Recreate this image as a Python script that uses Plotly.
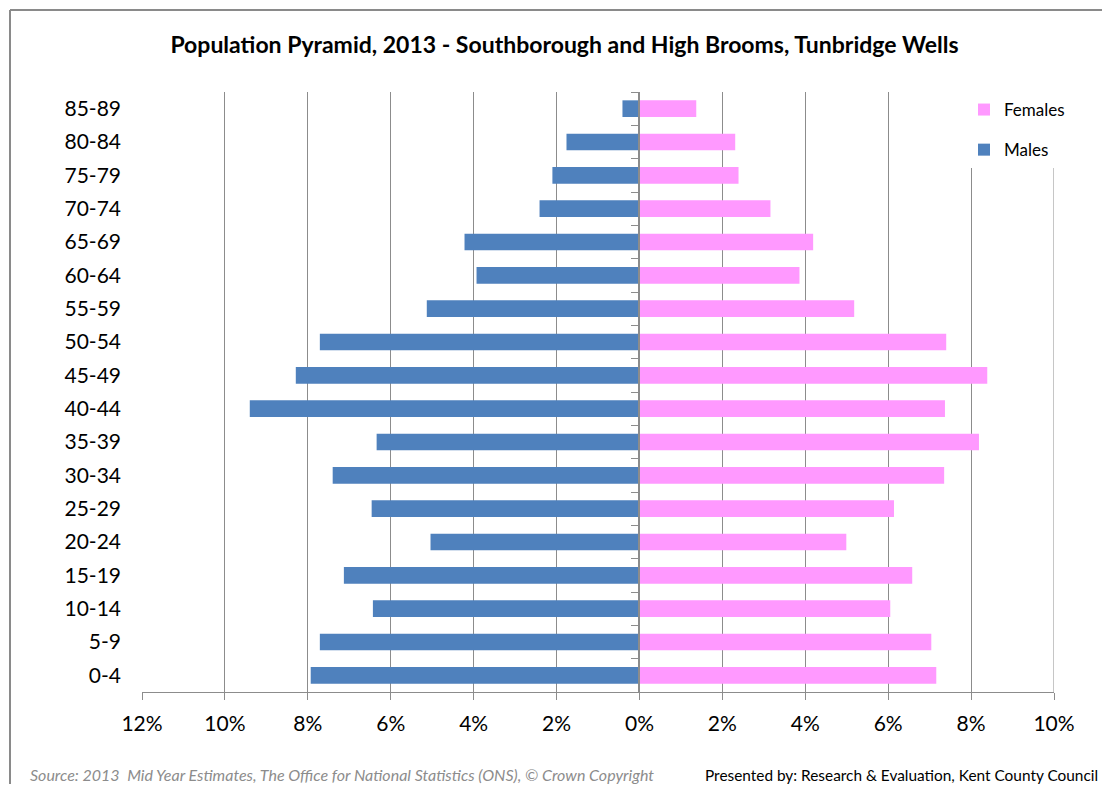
import plotly.graph_objects as go

age_groups = ["0-4", "5-9", "10-14", "15-19", "20-24", "25-29", "30-34", "35-39",
              "40-44", "45-49", "50-54", "55-59", "60-64", "65-69", "70-74",
              "75-79", "80-84", "85-89"]
males_pct = [7.93, 7.71, 6.43, 7.13, 5.04, 6.46, 7.40, 6.34,
             9.40, 8.29, 7.71, 5.13, 3.93, 4.22, 2.41, 2.10, 1.76, 0.41]
females_pct = [7.16, 7.04, 6.05, 6.58, 4.99, 6.14, 7.35, 8.19,
               7.37, 8.39, 7.40, 5.18, 3.86, 4.19, 3.16, 2.39, 2.31, 1.37]
tick_vals = [-12, -10, -8, -6, -4, -2, 0, 2, 4, 6, 8, 10]
tick_text = ["12%", "10%", "8%", "6%", "4%", "2%", "0%", "2%", "4%", "6%", "8%", "10%"]

title_text = "Population Pyramid, 2013 - Southborough and High Brooms, Tunbridge Wells"
source_text = "Source: 2013  Mid Year Estimates, The Office for National Statistics (ONS), © Crown Copyright"
presented_text = "Presented by: Research & Evaluation, Kent County Council"

MALE_COLOR = "#4F81BD"
FEMALE_COLOR = "#FF99FF"
GRID = "#8C8C8C"
FONT = "Lato, 'Open Sans', sans-serif"

# figure is placed by the page with an 8px body margin
W, H = 1094, 776
L, T, PW, PH = 134, 84, 912, 600


def px_x(px):
    return (px - 8 - L) / PW


def px_y(py):
    return (T + PH - (py - 8)) / PH


fig = go.Figure()
fig.add_trace(go.Bar(
    y=age_groups, x=[-v for v in males_pct], orientation="h",
    name="Males", marker=dict(color=MALE_COLOR, line=dict(width=0)),
    width=0.5, xaxis="x", yaxis="y", legendgroup="m", legendrank=2,
    customdata=males_pct, hovertemplate="%{y}: %{customdata}%<extra>Males</extra>"))
fig.add_trace(go.Bar(
    y=age_groups, x=females_pct, orientation="h",
    name="Females", marker=dict(color=FEMALE_COLOR, line=dict(width=0)),
    width=0.5, xaxis="x", yaxis="y2", legendgroup="f", legendrank=1,
    hovertemplate="%{y}: %{x}%<extra>Females</extra>"))

xmin, xmax = -12, 10
zero_pos = (0 - xmin) / (xmax - xmin)

fig.update_layout(
    width=W, height=H,
    margin=dict(l=L, r=W - L - PW, t=T, b=H - T - PH),
    paper_bgcolor="white", plot_bgcolor="white",
    font=dict(family=FONT, color="#000000"),
    title=dict(text="<b>" + title_text + "</b>", x=556.5 / W, xref="container",
               xanchor="center", y=1 - 37 / H, yanchor="middle",
               font=dict(size=23, family=FONT, color="#000000")),
    xaxis=dict(range=[xmin, xmax], tickmode="array", tickvals=tick_vals, ticktext=tick_text,
               showgrid=True, gridcolor=GRID, gridwidth=1, zeroline=False,
               showline=True, linecolor=GRID, linewidth=1,
               ticks="outside", ticklen=7, tickcolor=GRID, tickwidth=1,
               ticklabelstandoff=6,
               tickfont=dict(size=21, family=FONT, color="#000000"), fixedrange=True),
    yaxis=dict(type="category", categoryorder="array", categoryarray=age_groups,
               range=[-0.5, len(age_groups) - 0.5], showgrid=False, zeroline=False,
               showline=False, ticks="", ticklabelstandoff=20,
               tickfont=dict(size=21, family=FONT, color="#000000")),
    yaxis2=dict(type="category", categoryorder="array", categoryarray=age_groups,
                range=[-0.5, len(age_groups) - 0.5], overlaying="y", anchor="free",
                position=zero_pos, side="left", showgrid=False, zeroline=False,
                showline=True, linecolor=GRID, linewidth=1.5,
                ticks="outside", ticklen=8, tickcolor=GRID, tickson="boundaries",
                showticklabels=False),
    showlegend=True,
    legend=dict(x=px_x(964), xanchor="left", y=1.0, yanchor="top",
                bgcolor="white", borderwidth=0, traceorder="grouped",
                tracegroupgap=15, itemwidth=30,
                font=dict(size=17, family=FONT, color="#000000")),
    bargap=0.5,
)

# gridline at the right end of the value axis
fig.add_shape(type="line", xref="x", yref="paper", x0=xmax, x1=xmax, y0=0, y1=1,
              layer="below", line=dict(color=GRID, width=1))

# outer chart frame (left and top edges)
fig.add_shape(type="line", xref="paper", yref="paper",
              x0=px_x(10), x1=1.2, y0=px_y(10), y1=px_y(10),
              line=dict(color="#8A8A8A", width=2))
fig.add_shape(type="line", xref="paper", yref="paper",
              x0=px_x(10), x1=px_x(10), y0=px_y(10), y1=-0.3,
              line=dict(color="#8A8A8A", width=2))

fig.add_annotation(text="<i>" + source_text + "</i>", xref="paper", yref="paper",
                   x=px_x(28), y=px_y(774), xanchor="left", yanchor="middle",
                   showarrow=False, font=dict(size=16, family=FONT, color="#8C8C8C"))
fig.add_annotation(text=presented_text, xref="paper", yref="paper",
                   x=px_x(1100), y=px_y(775), xanchor="right", yanchor="middle",
                   showarrow=False, font=dict(size=15.4, family=FONT, color="#000000"))

fig.write_html("out.html")
